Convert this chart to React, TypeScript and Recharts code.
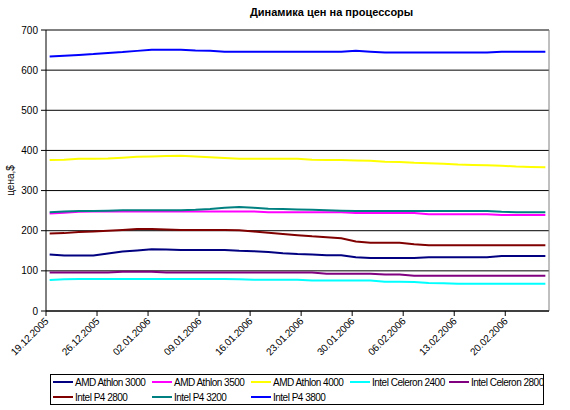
import { LineChart, Line, XAxis, YAxis, CartesianGrid, ReferenceLine } from 'recharts';

const FONT = '"Liberation Sans", Arial, sans-serif';

// days counted from 19.12.2005, sampled every second day
const sampleDays = [
  0, 2, 4, 6, 8, 10, 12, 14, 16, 18, 20, 22, 24, 26, 28, 30, 32, 34,
  36, 38, 40, 42, 44, 46, 48, 50, 52, 54, 56, 58, 60, 62, 64, 66, 68,
];
const tickDays = [0, 7, 14, 21, 28, 35, 42, 49, 56, 63];
const tickLabels = [
  '19.12.2005', '26.12.2005', '02.01.2006', '09.01.2006', '16.01.2006',
  '23.01.2006', '30.01.2006', '06.02.2006', '13.02.2006', '20.02.2006',
];
const yTicks = [0, 100, 200, 300, 400, 500, 600, 700];

const athlon3000 = [141, 138, 138, 138, 143, 148, 151, 154, 153, 152, 152, 152, 152, 150, 149, 147, 144, 142, 141, 139, 139, 134, 132, 132, 132, 132, 134, 134, 134, 134, 134, 137, 137, 137, 137];
const athlon3500 = [243, 245, 247, 248, 248, 248, 248, 248, 248, 248, 248, 248, 248, 248, 248, 246, 246, 246, 246, 246, 246, 244, 244, 244, 244, 244, 241, 241, 241, 241, 241, 239, 239, 239, 239];
const athlon4000 = [376, 377, 379, 379, 380, 382, 384, 385, 386, 387, 385, 383, 381, 379, 379, 379, 379, 379, 377, 376, 376, 375, 374, 372, 371, 369, 368, 367, 365, 364, 363, 362, 360, 359, 358];
const celeron2400 = [77, 79, 80, 80, 80, 80, 80, 80, 80, 80, 80, 80, 80, 79, 78, 78, 78, 78, 76, 76, 76, 76, 76, 73, 73, 72, 70, 69, 68, 68, 68, 68, 68, 68, 68];
const celeron2800 = [96, 96, 96, 96, 96, 98, 98, 98, 96, 96, 96, 96, 96, 96, 96, 96, 96, 96, 96, 93, 93, 93, 93, 91, 91, 88, 88, 88, 88, 88, 88, 88, 88, 88, 88];
const p4_2800 = [193, 194, 197, 198, 200, 202, 204, 204, 203, 202, 202, 202, 202, 201, 198, 195, 192, 189, 186, 184, 181, 173, 170, 170, 170, 166, 164, 164, 164, 164, 164, 164, 164, 164, 164];
const p4_3200 = [246, 248, 249, 249, 250, 251, 251, 251, 251, 251, 252, 254, 257, 259, 257, 255, 254, 253, 252, 251, 250, 249, 249, 249, 249, 249, 249, 249, 249, 249, 249, 247, 246, 246, 246];
const p4_3800 = [634, 636, 638, 640, 643, 645, 648, 651, 651, 651, 649, 648, 646, 646, 646, 646, 646, 646, 646, 646, 646, 648, 646, 644, 644, 644, 644, 644, 644, 644, 644, 646, 646, 646, 646];

const SERIES = [
  { key: 'athlon3000', name: 'AMD Athlon 3000', color: '#000080', values: athlon3000 },
  { key: 'athlon3500', name: 'AMD Athlon 3500', color: '#FF00FF', values: athlon3500 },
  { key: 'athlon4000', name: 'AMD Athlon 4000', color: '#FFFF00', values: athlon4000 },
  { key: 'celeron2400', name: 'Intel Celeron 2400', color: '#00FFFF', values: celeron2400 },
  { key: 'celeron2800', name: 'Intel Celeron 2800', color: '#800080', values: celeron2800 },
  { key: 'p4_2800', name: 'Intel P4 2800', color: '#800000', values: p4_2800 },
  { key: 'p4_3200', name: 'Intel P4 3200', color: '#008080', values: p4_3200 },
  { key: 'p4_3800', name: 'Intel P4 3800', color: '#0000FF', values: p4_3800 },
];

// each sample sits in the middle of its day slot
const data = sampleDays.map((d, i) => {
  const row: Record<string, number> = { day: d + 0.5 };
  SERIES.forEach((s) => { row[s.key] = s.values[i]; });
  return row;
});

function DateTick({ x, y, payload }: any) {
  const label = tickLabels[tickDays.indexOf(payload.value)];
  const ax = x + 3;
  const ay = y + 4;
  return (
    <text x={ax} y={ay} transform={`rotate(-45, ${ax}, ${ay})`} textAnchor="end"
      fontSize={10} fontFamily={FONT} fill="#000" letterSpacing={-0.2}>
      {label}
    </text>
  );
}

function YLabel({ viewBox }: any) {
  const cx = (viewBox?.x ?? 0) + 8;
  const cy = (viewBox?.y ?? 0) + (viewBox?.height ?? 0) / 2 + 10;
  return (
    <text x={cx} y={cy} transform={`rotate(-90, ${cx}, ${cy})`} textAnchor="middle"
      fontSize={10} fontFamily={FONT} fill="#000">
      цена,$
    </text>
  );
}

export default function App() {
  return (
    <div style={{ position: 'relative', width: 570, height: 410, background: '#fff', fontFamily: FONT }}>
      <style>{'body{margin:0}'}</style>

      <div style={{
        position: 'absolute', left: 250, top: 6,
        fontSize: 11, fontWeight: 700, whiteSpace: 'nowrap', color: '#000',
      }}>
        Динамика цен на процессоры
      </div>

      <LineChart width={570} height={410} data={data}
        margin={{ top: 30, right: 21, bottom: 39, left: 6 }}>
        <CartesianGrid vertical={false} stroke="#000" />
        <XAxis
          type="number" dataKey="day" domain={[0, 69]} ticks={tickDays} interval={0}
          height={60} tickSize={5} tickMargin={2}
          axisLine={{ stroke: '#000' }} tickLine={{ stroke: '#000' }}
          tick={<DateTick />}
        />
        <YAxis
          type="number" domain={[0, 700]} ticks={yTicks} interval={0}
          width={40} tickSize={5} tickMargin={3}
          axisLine={{ stroke: '#000' }} tickLine={{ stroke: '#000' }}
          tick={{ fontSize: 10, fill: '#000', fontFamily: FONT }}
          label={<YLabel />}
        />
        <ReferenceLine y={700} stroke="#808080" />
        <ReferenceLine x={69} stroke="#808080" />
        {SERIES.map((s) => (
          <Line key={s.key} type="linear" dataKey={s.key} name={s.name}
            stroke={s.color} strokeWidth={2} dot={false} activeDot={false}
            isAnimationActive={false} />
        ))}
      </LineChart>

      {/* legend box */}
      <div style={{
        position: 'absolute', left: 50, top: 374, width: 494, height: 31,
        border: '1px solid #000', boxSizing: 'border-box', overflow: 'hidden', background: '#fff',
      }}>
        {SERIES.map((s, i) => (
          <div key={s.key} style={{
            position: 'absolute', left: 2 + (i % 5) * 99, top: Math.floor(i / 5) * 15,
            height: 14, display: 'flex', alignItems: 'center', whiteSpace: 'nowrap',
          }}>
            <span style={{ display: 'inline-block', width: 20, height: 2, background: s.color, marginRight: 2 }} />
            <span style={{ fontSize: 10, letterSpacing: -0.5, color: '#000' }}>{s.name}</span>
          </div>
        ))}
      </div>
    </div>
  );
}
